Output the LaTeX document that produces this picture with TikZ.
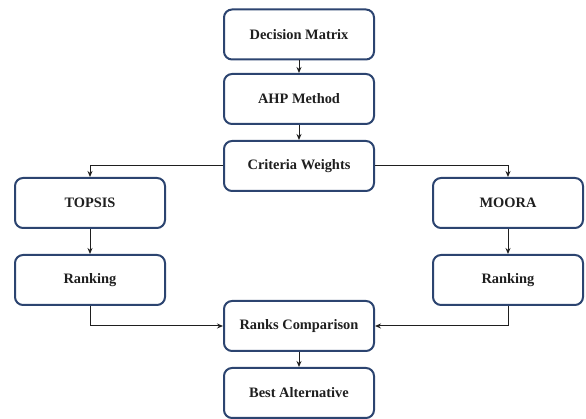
\documentclass[tikz,border=0pt]{standalone}
\usepackage{fontspec}
\setmainfont{Liberation Serif}
\usetikzlibrary{arrows.meta}
\definecolor{boxline}{HTML}{2C4470}
\tikzset{
  box/.style={draw=boxline, line width=2pt, rounded corners=8pt, fill=white,
    minimum width=150pt, minimum height=50pt, inner sep=0pt,
    font=\fontsize{14.4}{17}\selectfont\bfseries, text=black!88},
  conn/.style={draw=black!88, line width=1pt, -{Stealth[length=6pt,width=5pt]}}
}
\begin{document}
\begin{tikzpicture}[x=1pt,y=1pt]
\useasboundingbox (0,0) rectangle (586,419);
\node[box] (dm) at (299,384.5) {Decision Matrix};
\node[box] (ahp) at (299,320) {AHP Method};
\node[box] (cw) at (299,253) {Criteria Weights};
\node[box] (topsis) at (90,216) {TOPSIS};
\node[box] (rankL) at (90,139) {Ranking};
\node[box] (moora) at (508,216) {MOORA};
\node[box] (rankR) at (508,139) {Ranking};
\node[box] (rc) at (299,93) {Ranks Comparison};
\node[box] (best) at (299,26) {Best Alternative};
\draw[conn] (dm) -- (ahp);
\draw[conn] (ahp) -- (cw);
\draw[conn] (cw.west) -| (topsis.north);
\draw[conn] (cw.east) -| (moora.north);
\draw[conn] (topsis) -- (rankL);
\draw[conn] (moora) -- (rankR);
\draw[conn] (rankL.south) |- (rc.west);
\draw[conn] (rankR.south) |- (rc.east);
\draw[conn] (rc) -- (best);
\end{tikzpicture}
\end{document}
